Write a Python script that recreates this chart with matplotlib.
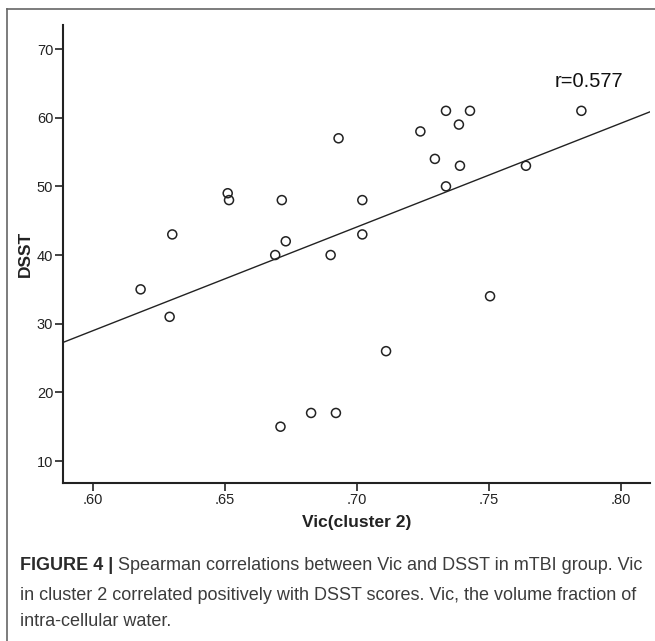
import numpy as np
import matplotlib
matplotlib.use("Agg")
import matplotlib.pyplot as plt
from matplotlib.lines import Line2D
from matplotlib.ticker import FuncFormatter

# Vic (cluster 2) vs DSST
vic = [0.618, 0.629, 0.630, 0.651, 0.6515, 0.6715, 0.673, 0.669, 0.690,
       0.6826, 0.671, 0.692, 0.693, 0.702, 0.702, 0.711, 0.724, 0.7337,
       0.7428, 0.7386, 0.7295, 0.739, 0.7337, 0.764, 0.7504, 0.785]
dsst = [35, 31, 43, 49, 48, 48, 42, 40, 40,
        17, 15, 17, 57, 48, 43, 26, 58, 61,
        61, 59, 54, 53, 50, 53, 34, 61]
xticks = [0.60, 0.65, 0.70, 0.75, 0.80]
yticks = [10, 20, 30, 40, 50, 60, 70]
r_label = "r=0.577"

narrow = ["Liberation Sans Narrow", "Liberation Sans", "DejaVu Sans"]
regular = ["Liberation Sans", "DejaVu Sans"]

W, H = 655, 641
fig = plt.figure(figsize=(W / 100, H / 100), dpi=100)
ax = fig.add_axes([63 / W, 1 - 483 / H, (650 - 63) / W, (483 - 25) / H])

xlim = (0.5886, 0.811)
ylim = (6.8, 73.5)

ax.scatter(vic, dsst, s=42, facecolors="none", edgecolors="#222222",
           linewidths=1.1, zorder=3)

# least-squares fit line over the whole axis
slope, icpt = np.polyfit(vic, dsst, 1)
xx = np.array(xlim)
ax.plot(xx, icpt + slope * xx, color="#222222", lw=1.0)

ax.set_xlim(*xlim)
ax.set_ylim(*ylim)
ax.set_xticks(xticks)
ax.set_yticks(yticks)
ax.xaxis.set_major_formatter(FuncFormatter(lambda v, p: ("%.2f" % v).lstrip("0")))
ax.yaxis.set_major_formatter(FuncFormatter(lambda v, p: "%d" % v))

for s in ["top", "right"]:
    ax.spines[s].set_visible(False)
for s in ["left", "bottom"]:
    ax.spines[s].set_linewidth(1.5)
    ax.spines[s].set_color("#222222")
ax.tick_params(direction="out", length=6, width=1.2, color="#222222",
               labelcolor="#222222", pad=1)
for lab in ax.get_xticklabels() + ax.get_yticklabels():
    lab.set_family(narrow)
    lab.set_fontsize(10.5)

ax.set_xlabel("Vic(cluster 2)", family=narrow, fontweight="bold",
              fontsize=12.5, color="#222222", labelpad=6)
ax.set_ylabel("DSST", family=narrow, fontweight="bold", fontsize=12.5,
              color="#222222", labelpad=3)

ax.text(0.775, 65.2, r_label, family=regular, fontsize=14.5,
        color="#111111", ha="left", va="center")

# outer frame (only left and top show)
fig.add_artist(Line2D([7 / W, 7 / W], [0, 1 - 9 / H], transform=fig.transFigure,
                      color="#666666", lw=1.2))
fig.add_artist(Line2D([7 / W, 1], [1 - 9 / H, 1 - 9 / H], transform=fig.transFigure,
                      color="#666666", lw=1.2))

# caption
cap_color = "#3c3c3c"
cap_size = 13
t1 = fig.text(20 / W, 1 - 566 / H, "FIGURE 4 |", family=regular,
              fontweight="bold", fontsize=cap_size, color="#2a2a2a",
              va="center", ha="left")
ax.annotate(" Spearman correlations between Vic and DSST in mTBI group. Vic",
            xy=(1, 0), xycoords=t1, va="bottom", ha="left",
            family=regular, fontsize=cap_size, color=cap_color)
fig.text(20 / W, 1 - 595 / H,
         "in cluster 2 correlated positively with DSST scores. Vic, the volume fraction of",
         family=regular, fontsize=cap_size, color=cap_color, va="center", ha="left")
fig.text(20 / W, 1 - 622 / H, "intra-cellular water.",
         family=regular, fontsize=cap_size, color=cap_color, va="center", ha="left")

fig.savefig("out.png", dpi=100)
